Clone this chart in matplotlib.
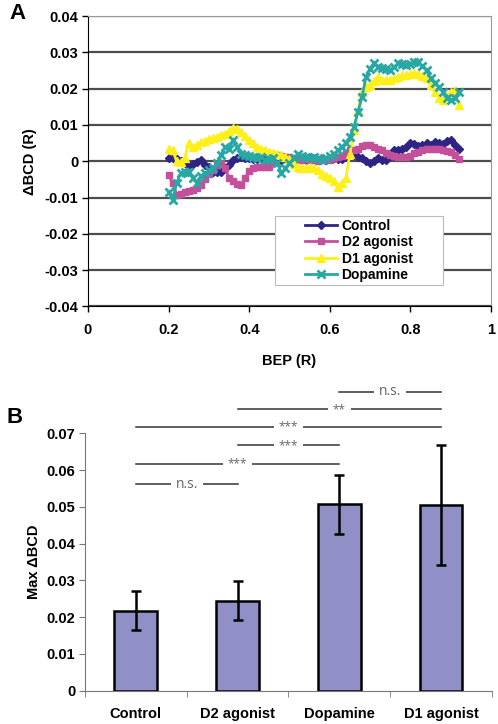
import numpy as np
import matplotlib
matplotlib.use("Agg")
import matplotlib.pyplot as plt
from matplotlib.patches import Rectangle

plt.rcParams["font.family"] = ["Liberation Sans", "DejaVu Sans"]
plt.rcParams["font.weight"] = "bold"

# panel A data: BEP (R) from 0.20 to 0.92
bep = np.round(np.arange(0.20, 0.925, 0.01), 2)
control = [0.001, 0.0008, 0.0005, 0.0, -0.0006, -0.001, -0.0008, -0.0002, 0.0003, -0.001,
           -0.0015, -0.003, -0.003, -0.003, -0.002, -0.001, 0.0003, 0.0008, 0.0012, 0.001,
           0.0008, 0.0007, 0.0005, 0.001, 0.0007, 0.0005, 0.0003, 0.0005, 0.0003, 0.0005,
           0.0003, 0.0006, 0.0005, 0.0008, 0.0003, 0.0005, 0.0007, 0.0003, 0.0005, 0.0003,
           0.0005, 0.0008, 0.0005, 0.0007, 0.0015, 0.0026, 0.0018, 0.0012, 0.0008, 0.0,
           -0.0004, 0.0, 0.0008, 0.0004, 0.0003, 0.0015, 0.003, 0.0032, 0.0035, 0.004,
           0.005, 0.0048, 0.0042, 0.0044, 0.005, 0.0045, 0.0052, 0.005, 0.0048, 0.0055,
           0.0058, 0.0045, 0.0035]
d2_agonist = [-0.0038, -0.006, -0.0092, -0.009, -0.0085, -0.0082, -0.0078, -0.0075, -0.0065, -0.005,
              -0.0035, -0.0025, -0.001, -0.0006, -0.002, -0.0045, -0.0055, -0.0062, -0.0066, -0.0045,
              -0.0028, -0.002, -0.0016, -0.0016, -0.0015, -0.0016, -0.0005, 0.0017, 0.0015, 0.0012,
              0.0012, 0.0005, 0.0003, 0.0003, 0.0005, 0.0003, 0.0003, 0.0002, 0.0003, 0.0005,
              0.0003, 0.0008, 0.0012, 0.0015, 0.0022, 0.003, 0.0032, 0.0035, 0.0042, 0.0044,
              0.0044, 0.004, 0.0035, 0.003, 0.0022, 0.0017, 0.0014, 0.0012, 0.0012, 0.0012,
              0.0015, 0.0022, 0.0026, 0.003, 0.0033, 0.0035, 0.0035, 0.0033, 0.003, 0.0027,
              0.0026, 0.0018, 0.0007]
d1_agonist = [0.0033, 0.003, 0.0, -0.0002, 0.001, 0.0049, 0.004, 0.0045, 0.0052, 0.0055,
              0.006, 0.0065, 0.0068, 0.0072, 0.0076, 0.0082, 0.0092, 0.0088, 0.0081, 0.007,
              0.0058, 0.005, 0.004, 0.0035, 0.003, 0.0026, 0.0022, 0.0021, 0.0018, 0.0012,
              0.0005, -0.0008, -0.0016, -0.002, -0.0018, -0.0016, -0.002, -0.0025, -0.0034, -0.004,
              -0.0045, -0.0055, -0.0071, -0.006, -0.0045, 0.002, 0.0086, 0.014, 0.0191, 0.0205,
              0.021, 0.0222, 0.0233, 0.0225, 0.0223, 0.0225, 0.0228, 0.0232, 0.0237, 0.0238,
              0.024, 0.0242, 0.024, 0.0235, 0.0228, 0.021, 0.0191, 0.0175, 0.0168, 0.018,
              0.0191, 0.0196, 0.0155]
dopamine = [-0.0085, -0.0107, -0.006, -0.0033, -0.003, -0.003, -0.0045, -0.006, -0.004, -0.0033,
            -0.0025, -0.002, -0.0005, 0.0017, 0.004, 0.0035, 0.0058, 0.004, 0.002, 0.0017,
            0.0015, 0.0012, 0.001, 0.0012, 0.0003, 0.0005, 0.0008, -0.0005, -0.0033, -0.002,
            -0.0006, 0.0008, 0.002, 0.0015, 0.0012, 0.001, 0.0012, 0.0008, 0.0003, 0.001,
            0.0015, 0.002, 0.003, 0.004, 0.005, 0.0067, 0.0095, 0.0136, 0.0177, 0.0233,
            0.0255, 0.027, 0.026, 0.0256, 0.0255, 0.0251, 0.026, 0.027, 0.0268, 0.0265,
            0.0268, 0.0272, 0.0274, 0.0262, 0.0251, 0.0228, 0.0215, 0.0205, 0.0192, 0.0175,
            0.0168, 0.0173, 0.0191]

# panel B data
groups = ["Control", "D2 agonist", "Dopamine", "D1 agonist"]
max_bcd = [0.0218, 0.0244, 0.0507, 0.0505]
max_err = [0.0052, 0.0053, 0.008, 0.0163]
# significance brackets: (from group, to group, height, label)
sig_pairs = [(2, 3, 0.0813, "n.s."), (1, 3, 0.0765, "**"), (0, 3, 0.0717, "***"),
             (1, 2, 0.0667, "***"), (0, 2, 0.0617, "***"), (0, 1, 0.0562, "n.s.")]

fig = plt.figure(figsize=(4.98, 7.24), dpi=100)

# ---- panel A ----
ax = fig.add_axes([0.1767, 0.5767, 0.8092, 0.4012])
ax.set_xlim(0, 1)
ax.set_ylim(-0.04, 0.04)
ax.set_yticks(np.arange(-0.04, 0.041, 0.01))
ax.set_yticklabels(["-0.04", "-0.03", "-0.02", "-0.01", "0", "0.01", "0.02", "0.03", "0.04"])
ax.set_xticks([0, 0.2, 0.4, 0.6, 0.8, 1])
ax.set_xticklabels(["0", "0.2", "0.4", "0.6", "0.8", "1"])
ax.yaxis.grid(True, color="#4d4d4d", linewidth=1.6)
ax.set_axisbelow(True)
for s in ["top", "right"]:
    ax.spines[s].set_color("#999999")
for s in ["left", "bottom"]:
    ax.spines[s].set_color("black")
ax.tick_params(axis="y", direction="out", length=4, width=1, labelsize=10.5, pad=3)
ax.tick_params(axis="x", direction="out", length=4, width=1, labelsize=10.5, pad=8)

series = [
    ("Control", control, "#2E2486", "D", 4.5),
    ("D2 agonist", d2_agonist, "#C4509C", "s", 5),
    ("D1 agonist", d1_agonist, "#FFEF1A", "^", 6),
    ("Dopamine", dopamine, "#28A8A4", "x", 6),
]
for name, vals, col, mk, ms in series:
    ax.plot(bep, vals, color=col, linewidth=2, marker=mk, markersize=ms,
            markeredgewidth=2 if mk == "x" else 1, markeredgecolor=col, label=name)

# legend box (Excel style: wide white frame, entries centred)
ax.add_patch(Rectangle((0.464, 0.074), 0.417, 0.2375, transform=ax.transAxes,
                       facecolor="white", edgecolor="#bbbbbb", linewidth=0.8, zorder=4))
leg = ax.legend(loc="center", bbox_to_anchor=(0.6725, 0.1925), borderaxespad=0,
                frameon=False, fontsize=10, handlelength=2.3, labelspacing=0.18,
                borderpad=0.2, handletextpad=0.3)
leg.set_zorder(5)
for t in leg.get_texts():
    t.set_fontweight("bold")

ax.set_xlabel("BEP (R)", fontsize=10.5, fontweight="bold", labelpad=12)
ax.set_ylabel("ΔBCD (R)", fontsize=10.5, fontweight="bold", labelpad=5)
fig.text(0.035, 0.982, "A", fontsize=16, fontweight="bold", ha="center", va="center")

# ---- panel B ----
bx = fig.add_axes([0.1707, 0.046, 0.8167, 0.3555])
xpos = np.arange(len(groups))
bx.bar(xpos, max_bcd, width=0.42, color="#9090C6", edgecolor="black", linewidth=1.8,
       yerr=max_err, error_kw=dict(ecolor="black", elinewidth=1.8, capsize=3.5, capthick=1.8))
bx.set_xlim(-0.5, len(groups) - 0.5)
bx.set_ylim(0, 0.07)
bx.set_yticks(np.arange(0, 0.071, 0.01))
bx.set_yticklabels(["0", "0.01", "0.02", "0.03", "0.04", "0.05", "0.06", "0.07"])
bx.set_xticks(xpos)
bx.set_xticklabels(groups)
bx.set_xticks(np.arange(-0.5, len(groups), 1.0), minor=True)
bx.tick_params(axis="x", which="major", length=0, pad=12, labelsize=10.5)
bx.tick_params(axis="x", which="minor", length=4, direction="out", color="#777777")
bx.tick_params(axis="y", length=4, direction="out", color="#777777", labelsize=10.5, pad=3)
bx.spines["top"].set_visible(False)
bx.spines["right"].set_visible(False)
bx.spines["left"].set_color("#777777")
bx.spines["bottom"].set_color("#777777")
bx.set_ylabel("Max ΔBCD", fontsize=10.5, fontweight="bold", labelpad=4)

for i, j, h, lab in sig_pairs:
    bx.plot([i, j], [h, h], color="#333333", linewidth=1.1, clip_on=False)
    bx.text((i + j) / 2, h, lab, fontsize=10 if lab == "n.s." else 8.5, fontweight="normal",
            color="#666666", family=["Open Sans", "DejaVu Sans"], ha="center", va="center",
            clip_on=False, bbox=dict(facecolor="white", edgecolor="none", pad=3.5))

fig.text(0.03, 0.424, "B", fontsize=16, fontweight="bold", ha="center", va="center")

fig.savefig("out.png", dpi=100)
